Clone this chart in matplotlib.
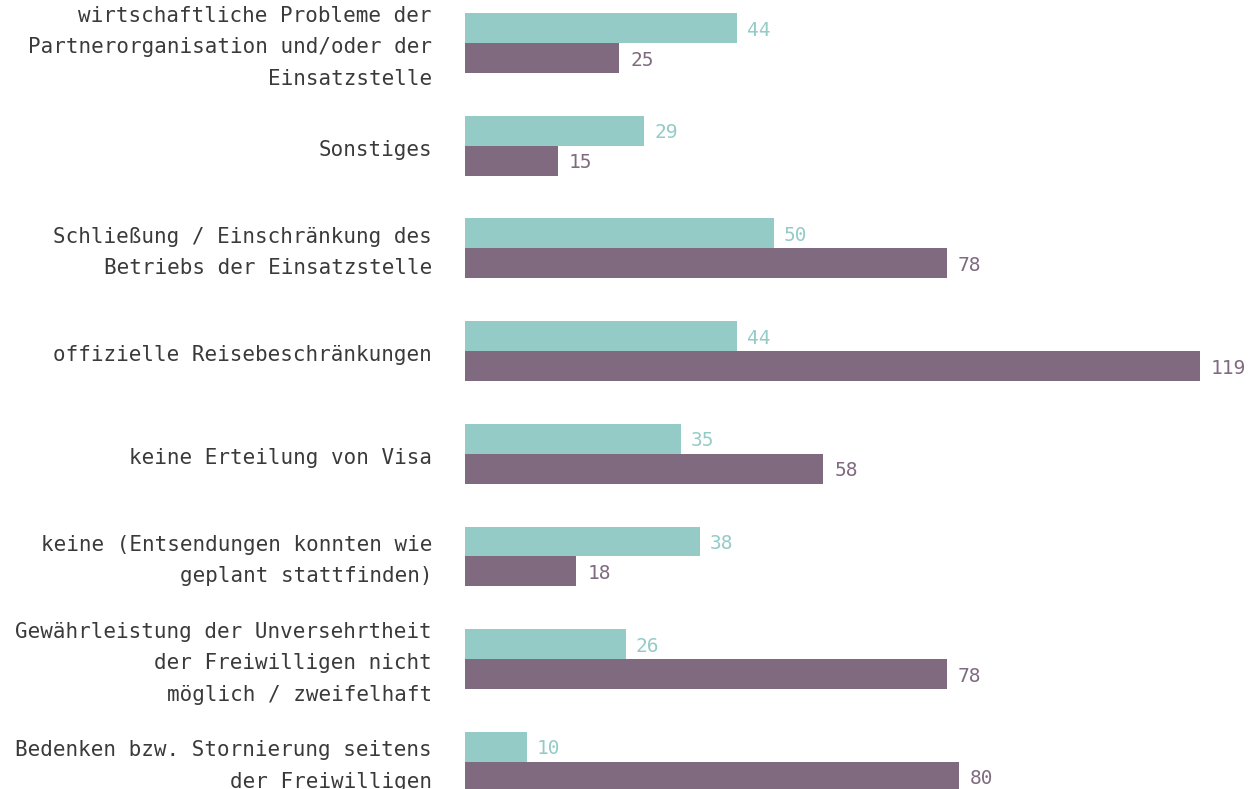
import numpy as np
import matplotlib.pyplot as plt

plt.rcParams['font.family'] = ['DejaVu Sans Mono', 'DejaVu Sans']

categories = [
    "wirtschaftliche Probleme der\nPartnerorganisation und/oder der\nEinsatzstelle",
    "Sonstiges",
    "Schließung / Einschränkung des\nBetriebs der Einsatzstelle",
    "offizielle Reisebeschränkungen",
    "keine Erteilung von Visa",
    "keine (Entsendungen konnten wie\ngeplant stattfinden)",
    "Gewährleistung der Unversehrtheit\nder Freiwilligen nicht\nmöglich / zweifelhaft",
    "Bedenken bzw. Stornierung seitens\nder Freiwilligen",
]
series_a = [44, 29, 50, 44, 35, 38, 26, 10]
series_b = [25, 15, 78, 119, 58, 18, 78, 80]

teal = '#94cbc7'
purple = '#7f6a80'
text_col = '#3a3a3a'

W, H = 1254, 789
fig = plt.figure(figsize=(W / 100, H / 100), dpi=100)
# plotting area: x from 465px to 1200px (0..119), full height
ax = fig.add_axes([465 / W, 0, (1200 - 465) / W, 1])

y = np.arange(len(categories))
h = 0.292
ax.barh(y - h / 2, series_a, height=h, color=teal)
ax.barh(y + h / 2, series_b, height=h, color=purple)

ax.set_xlim(0, 119)
ax.set_ylim(7.264, -0.4187)
ax.axis('off')

px = 119 / (1200 - 465)  # data units per pixel
for i, (a, b) in enumerate(zip(series_a, series_b)):
    ax.text(a + 10 * px, i - h / 2 + 0.02, str(a), color=teal, fontsize=14,
            va='center', ha='left', clip_on=False)
    ax.text(b + 11 * px, i + h / 2 + 0.02, str(b), color=purple, fontsize=14,
            va='center', ha='left', clip_on=False)
    ax.text(-33 * px, i + 0.04, categories[i], color=text_col, fontsize=15,
            va='center', ha='right', multialignment='right', linespacing=1.72,
            clip_on=False)

fig.savefig('out.png', dpi=100)
